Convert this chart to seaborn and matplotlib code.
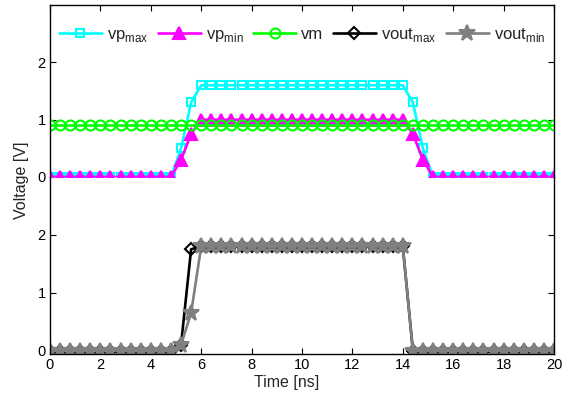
import numpy as np
import pandas as pd
import matplotlib
matplotlib.use("Agg")
import matplotlib.pyplot as plt
import seaborn as sns

# Sample times [ns], one sample every 0.4 ns
time_ns = [round(0.4 * i, 1) for i in range(51)]

# Input-side node voltages [V]
vp_max = [0.0] * 13 + [0.5, 1.3] + [1.6] * 21 + [1.3, 0.5] + [0.0] * 13
vp_min = [0.0] * 13 + [0.3, 0.75] + [1.0] * 21 + [0.75, 0.3] + [0.0] * 13
vm = [0.9] * 51

# Output voltages [V]
vout_max = [0.0] * 13 + [0.1, 1.75] + [1.8] * 21 + [0.0] * 15
vout_min = [0.0] * 13 + [0.1, 0.65] + [1.8] * 21 + [0.0] * 15

sns.set_theme(style="white")
plt.rcParams["font.family"] = ["Liberation Sans", "DejaVu Sans"]
plt.rcParams["mathtext.fontset"] = "custom"
plt.rcParams["mathtext.rm"] = "Liberation Sans"

fig = plt.figure(figsize=(5.74, 3.97), dpi=100)
left, width = 50 / 574, 504 / 574
ax_top = fig.add_axes([left, 1 - 177 / 397, width, 172 / 397])
ax_bot = fig.add_axes([left, 1 - 354 / 397, width, 177 / 397])

lw = 1.9
top_series = [
    ("vp$_\\mathregular{max}$", vp_max, "#00FFFF", "s", 5.5, "none"),
    ("vp$_\\mathregular{min}$", vp_min, "#FF00FF", "^", 8, "#FF00FF"),
    ("vm", vm, "#00FF00", "o", 7.2, "none"),
]
bot_series = [
    ("vout$_\\mathregular{max}$", vout_max, "#000000", "D", 6, "none"),
    ("vout$_\\mathregular{min}$", vout_min, "#808080", "*", 12, "#808080"),
]

handles = []
for ax, series in ((ax_top, top_series), (ax_bot, bot_series)):
    for label, vals, color, mk, ms, mfc in series:
        df = pd.DataFrame({"t": time_ns, "v": vals})
        sns.lineplot(data=df, x="t", y="v", ax=ax, color=color, lw=lw,
                     marker=mk, markersize=ms, markerfacecolor=mfc,
                     markeredgecolor=color, markeredgewidth=1.5, label=label,
                     legend=False)
        handles.append(ax.lines[-1])

for ax in (ax_top, ax_bot):
    ax.set_xlim(0, 20)
    ax.set_xticks(range(0, 21, 2))
    ax.set_yticks([0, 1, 2])
    ax.set_xlabel("")
    ax.set_ylabel("")
    ax.tick_params(direction="in", length=4, width=0.8, colors="black",
                   labelsize=10.5, right=True, left=True, pad=3)
    for s in ax.spines.values():
        s.set_color("black")
        s.set_linewidth(1.0)

ax_top.set_ylim(0, 3.0)
ax_top.spines["bottom"].set_visible(False)
ax_top.tick_params(axis="x", bottom=False, top=True, labelbottom=False)
ax_top.patch.set_alpha(0)

ax_bot.set_ylim(-0.06, 3.0)
ax_bot.spines["top"].set_visible(False)
ax_bot.tick_params(axis="x", bottom=True, top=False, labelbottom=True)
ax_bot.patch.set_alpha(0)
ax_top.set_zorder(2)

ax_top.legend(handles=handles, labels=[h.get_label() for h in handles],
              loc="center", bbox_to_anchor=(0.5, 0.825), ncol=5,
              frameon=False, fontsize=12, handlelength=2.6,
              handletextpad=0.3, columnspacing=0.55, borderaxespad=0)

fig.text(0.5, 1 - 383 / 397, "Time [ns]", ha="center", va="center", fontsize=11.5)
fig.text(22 / 574, 1 - 180 / 397, "Voltage [V]", ha="center", va="center",
         rotation=90, fontsize=11.5)

fig.savefig("out.png", dpi=100)
